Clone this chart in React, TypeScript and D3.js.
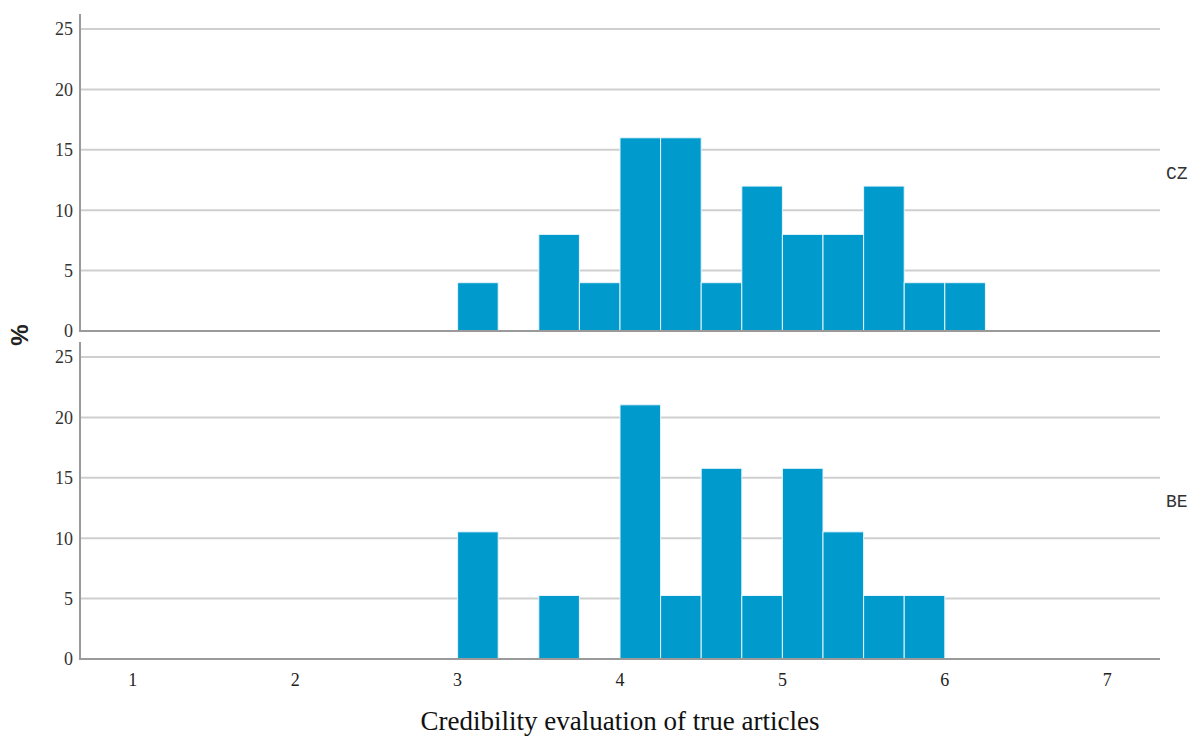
import React from "react";
import * as d3 from "d3";

const binStarts = [3.0, 3.25, 3.5, 3.75, 4.0, 4.25, 4.5, 4.75, 5.0, 5.25, 5.5, 5.75, 6.0];
const binWidth = 0.25;
const czPercent = [4, 0, 8, 4, 16, 16, 4, 12, 8, 8, 12, 4, 4];
const bePercent = [10.53, 0, 5.26, 0, 21.05, 5.26, 15.79, 5.26, 15.79, 10.53, 5.26, 5.26, 0];
const panels = ["CZ", "BE"];
const xTicks = [1, 2, 3, 4, 5, 6, 7];
const yTicks = [0, 5, 10, 15, 20, 25];

const W = 1195;
const H = 736;
const left = 80;
const right = 1160;
const barColor = "#009acd";
const gridColor = "#cfcfcf";
const axisColor = "#9a9a9a";
const tickFont = "Liberation Serif, Times New Roman, serif";

const Panel = (props) => {
  const { top, bottom, values, label, x } = props;
  const y = d3.scaleLinear().domain([0, 26.25]).range([bottom, top]);

  return (
    <g>
      {yTicks.filter((t) => t > 0).map((t) => (
        <line key={t} x1={left} x2={right} y1={y(t)} y2={y(t)} stroke={gridColor} strokeWidth={2} />
      ))}
      {values.map((v, i) =>
        v > 0 ? (
          <rect
            key={i}
            x={x(binStarts[i])}
            y={y(v)}
            width={x(binStarts[i] + binWidth) - x(binStarts[i])}
            height={y(0) - y(v)}
            fill={barColor}
            stroke="#e8f6fb"
            strokeWidth={1}
          />
        ) : null
      )}
      <line x1={left} x2={left} y1={top} y2={bottom} stroke={axisColor} strokeWidth={2} />
      <line x1={left - 1} x2={right} y1={bottom} y2={bottom} stroke={axisColor} strokeWidth={2} />
      {yTicks.map((t) => (
        <text
          key={t}
          x={left - 7}
          y={y(t)}
          dy="0.35em"
          textAnchor="end"
          fontFamily={tickFont}
          fontSize={18}
          fill="#333"
        >
          {t}
        </text>
      ))}
      <text
        x={right + 6}
        y={(top + bottom) / 2}
        dy="0.35em"
        fontFamily="Liberation Mono, Courier New, monospace"
        fontSize={18}
        fill="#333"
      >
        {label}
      </text>
    </g>
  );
};

export default function App() {
  const x = d3.scaleLinear().domain([0.675, 7.325]).range([left, right]);
  const data = [czPercent, bePercent];
  const frames = [
    { top: 14, bottom: 331 },
    { top: 342, bottom: 659 },
  ];

  return (
    <svg
      width={W}
      height={H}
      style={{ position: "absolute", left: 0, top: 0, background: "#fff" }}
    >
      {panels.map((p, i) => (
        <Panel key={p} top={frames[i].top} bottom={frames[i].bottom} values={data[i]} label={p} x={x} />
      ))}
      {xTicks.map((t) => (
        <text
          key={t}
          x={x(t)}
          y={680}
          dy="0.35em"
          textAnchor="middle"
          fontFamily={tickFont}
          fontSize={18}
          fill="#222"
        >
          {t}
        </text>
      ))}
      <text
        x={620}
        y={730}
        textAnchor="middle"
        fontFamily="Liberation Serif, Times New Roman, serif"
        fontSize={27}
        fill="#111"
      >
        Credibility evaluation of true articles
      </text>
      <text
        transform="translate(28,335) rotate(-90)"
        textAnchor="middle"
        fontFamily="Liberation Sans, Arial, sans-serif"
        fontWeight="bold"
        fontSize={24}
        fill="#222"
      >
        %
      </text>
    </svg>
  );
}
